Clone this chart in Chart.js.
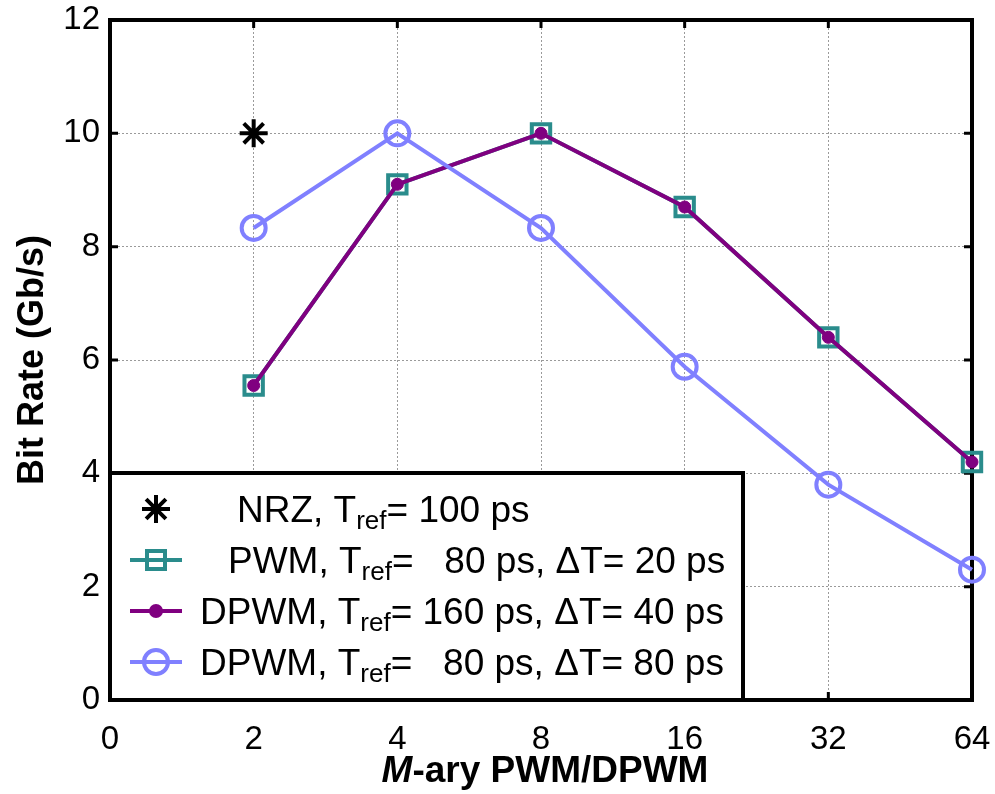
<!DOCTYPE html>
<html>
<head>
<meta charset="utf-8">
<script src="https://cdn.jsdelivr.net/npm/chart.js@4"></script>
<style>
  body { margin: 0; background: #fff; }
  canvas { display: block; }
</style>
</head>
<body>
<canvas id="rateChart" width="995" height="794"></canvas>
<script>
// M values along the x axis (equally spaced, 0 is only an edge label)
const mLabels = ['0', '2', '4', '8', '16', '32', '64'];
const yTicks = [0, 2, 4, 6, 8, 10, 12];

// bit rates in Gb/s
const nrzRate = [null, 10, null, null, null, null, null];
const pwmRate = [null, 5.55, 9.1, 10, 8.7, 6.4, 4.2];
const dpwm160Rate = [null, 5.55, 9.1, 10, 8.7, 6.4, 4.2];
const dpwm80Rate = [null, 8.33, 10, 8.33, 5.88, 3.8, 2.3];

const legendRows = [
  { pre: 'NRZ, T', post: '= 100 ps' },
  { pre: 'PWM, T', post: '=   80 ps, \u0394T= 20 ps' },
  { pre: 'DPWM, T', post: '= 160 ps, \u0394T= 40 ps' },
  { pre: 'DPWM, T', post: '=   80 ps, \u0394T= 80 ps' }
];

const FONT = "'Liberation Sans', Arial, Helvetica, sans-serif";
const TEAL = '#2a8c8c';
const PURPLE = '#800080';
const BLUE = '#8080ff';

function drawStar(ctx, x, y, r) {
  ctx.save();
  ctx.strokeStyle = '#000';
  ctx.lineWidth = 4;
  ctx.beginPath();
  for (let k = 0; k < 4; k++) {
    const a = k * Math.PI / 4;
    ctx.moveTo(x - r * Math.cos(a), y - r * Math.sin(a));
    ctx.lineTo(x + r * Math.cos(a), y + r * Math.sin(a));
  }
  ctx.stroke();
  ctx.restore();
}

// axes box, inner tick marks, axis titles
const framePlugin = {
  id: 'frame',
  beforeDatasetsDraw(chart) {
    const { ctx, chartArea: a, scales } = chart;
    ctx.save();
    ctx.strokeStyle = '#000';
    ctx.lineWidth = 3;
    ctx.beginPath();
    scales.x.ticks.forEach((t, i) => {
      const px = scales.x.getPixelForTick(i);
      ctx.moveTo(px, a.top); ctx.lineTo(px, a.top + 8);
      ctx.moveTo(px, a.bottom); ctx.lineTo(px, a.bottom - 8);
    });
    scales.y.ticks.forEach((t, i) => {
      const py = scales.y.getPixelForTick(i);
      ctx.moveTo(a.left, py); ctx.lineTo(a.left + 8, py);
      ctx.moveTo(a.right, py); ctx.lineTo(a.right - 8, py);
    });
    ctx.stroke();
    ctx.lineWidth = 4;
    ctx.strokeRect(a.left, a.top, a.right - a.left, a.bottom - a.top);
    ctx.restore();
  },
  afterDraw(chart) {
    const { ctx, chartArea: a } = chart;
    ctx.save();
    ctx.fillStyle = '#000';
    // x title with italic M
    const boldF = 'bold 37px ' + FONT;
    const italF = 'italic bold 37px ' + FONT;
    ctx.font = italF;
    const wM = ctx.measureText('M').width;
    ctx.font = boldF;
    const wRest = ctx.measureText('-ary PWM/DPWM').width;
    let x0 = 545 - (wM + wRest) / 2;
    ctx.textBaseline = 'alphabetic';
    ctx.textAlign = 'left';
    ctx.font = italF;
    ctx.fillText('M', x0, 782);
    ctx.font = boldF;
    ctx.fillText('-ary PWM/DPWM', x0 + wM, 782);
    // y title
    ctx.translate(43, (a.top + a.bottom) / 2);
    ctx.rotate(-Math.PI / 2);
    ctx.textAlign = 'center';
    ctx.font = 'bold 36px ' + FONT;
    ctx.fillText('Bit Rate (Gb/s)', 0, 0);
    ctx.restore();

    // legend box
    const bx = a.left, by = 473, bw = 743 - a.left, bh = a.bottom - 473;
    ctx.save();
    ctx.fillStyle = '#fff';
    ctx.fillRect(bx, by, bw, bh);
    ctx.strokeStyle = '#000';
    ctx.lineWidth = 4;
    ctx.strokeRect(bx, by, bw, bh);

    const rowY = [509, 560, 611, 662];
    const textX = [237, 228, 200, 200];
    const mx = 156;
    // markers
    drawStar(ctx, mx, rowY[0], 14);
    const lineRow = (y, color) => {
      ctx.strokeStyle = color;
      ctx.lineWidth = 4;
      ctx.beginPath();
      ctx.moveTo(130, y); ctx.lineTo(182, y);
      ctx.stroke();
    };
    lineRow(rowY[1], TEAL);
    ctx.strokeStyle = TEAL; ctx.lineWidth = 4;
    ctx.strokeRect(mx - 9, rowY[1] - 9, 18, 18);
    lineRow(rowY[2], PURPLE);
    ctx.fillStyle = PURPLE;
    ctx.beginPath(); ctx.arc(mx, rowY[2], 7, 0, Math.PI * 2); ctx.fill();
    lineRow(rowY[3], BLUE);
    ctx.strokeStyle = BLUE;
    ctx.beginPath(); ctx.arc(mx, rowY[3], 12, 0, Math.PI * 2); ctx.stroke();

    // texts with subscript "ref"
    ctx.fillStyle = '#000';
    ctx.textAlign = 'left';
    ctx.textBaseline = 'alphabetic';
    legendRows.forEach((r, i) => {
      const base = rowY[i] + 13;
      let x = textX[i];
      ctx.font = '37px ' + FONT;
      ctx.fillText(r.pre, x, base);
      x += ctx.measureText(r.pre).width;
      ctx.font = '26px ' + FONT;
      ctx.fillText('ref', x, base + 7);
      x += ctx.measureText('ref').width;
      ctx.font = '37px ' + FONT;
      ctx.fillText(r.post, x, base);
    });
    ctx.restore();
  }
};

const ctx = document.getElementById('rateChart').getContext('2d');
const rateChart = new Chart(ctx, {
  type: 'line',
  data: {
    labels: mLabels,
    datasets: [
      {
        label: 'NRZ',
        data: nrzRate,
        showLine: false,
        pointStyle: 'star',
        pointRadius: 14,
        borderColor: '#000',
        pointBorderWidth: 4,
        order: 0
      },
      {
        label: 'DPWM 80',
        data: dpwm80Rate,
        borderColor: BLUE,
        borderWidth: 4,
        pointStyle: 'circle',
        pointRadius: 12,
        pointBorderWidth: 4,
        pointBorderColor: BLUE,
        pointBackgroundColor: 'rgba(0,0,0,0)',
        order: 1
      },
      {
        label: 'DPWM 160',
        data: dpwm160Rate,
        borderColor: PURPLE,
        borderWidth: 4,
        pointStyle: 'circle',
        pointRadius: 6,
        pointBorderWidth: 1,
        pointBorderColor: PURPLE,
        pointBackgroundColor: PURPLE,
        order: 2
      },
      {
        label: 'PWM',
        data: pwmRate,
        borderColor: TEAL,
        borderWidth: 4,
        pointStyle: 'rect',
        pointRadius: 13,
        pointBorderWidth: 4,
        pointBorderColor: TEAL,
        pointBackgroundColor: 'rgba(0,0,0,0)',
        order: 3
      }
    ]
  },
  options: {
    responsive: false,
    animation: false,
    events: [],
    layout: { padding: { top: 20, right: 23, left: 0, bottom: 0 } },
    scales: {
      x: {
        type: 'category',
        offset: false,
        afterFit(s) { s.height = 94; s.paddingLeft = 0; s.paddingRight = 0; },
        grid: { color: '#9a9a9a', lineWidth: 1, drawTicks: false },
        border: { display: false, dash: [2, 2] },
        ticks: {
          color: '#000',
          padding: 20,
          autoSkip: false,
          maxRotation: 0,
          font: { family: FONT, size: 33 }
        }
      },
      y: {
        min: 0,
        max: 12,
        afterFit(s) { s.width = 110; s.paddingTop = 0; s.paddingBottom = 0; },
        afterBuildTicks(s) { s.ticks = yTicks.map(v => ({ value: v })); },
        grid: { color: '#9a9a9a', lineWidth: 1, drawTicks: false },
        border: { display: false, dash: [2, 2] },
        ticks: {
          color: '#000',
          padding: 10,
          font: { family: FONT, size: 33 }
        }
      }
    },
    plugins: {
      legend: { display: false },
      tooltip: { enabled: false }
    }
  },
  plugins: [framePlugin]
});
</script>
</body>
</html>
